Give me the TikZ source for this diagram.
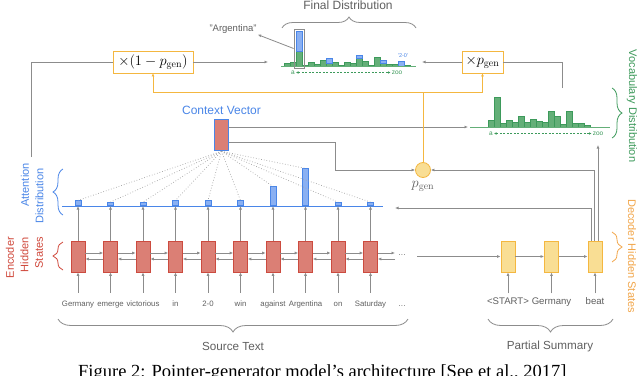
\documentclass[tikz,border=0pt]{standalone}
\usepackage[no-math]{fontspec}
\setmainfont{Liberation Sans}
\newfontfamily\capfont{Liberation Serif}
\usetikzlibrary{arrows.meta,decorations.pathreplacing,calc}
\definecolor{encf}{HTML}{DB7F75}
\definecolor{encd}{HTML}{CC4B3F}
\definecolor{enct}{HTML}{D0483B}
\definecolor{decf}{HTML}{F9DE94}
\definecolor{decd}{HTML}{F4B740}
\definecolor{dect}{HTML}{F2A64A}
\definecolor{bblue}{HTML}{4A86E8}
\definecolor{bfill}{HTML}{8AB0F2}
\definecolor{gfill}{HTML}{64AF78}
\definecolor{gdark}{HTML}{3D9A5B}
\definecolor{lgray}{HTML}{8C8C8C}
\definecolor{tgray}{HTML}{606060}
\tikzset{
  ln/.style={draw=lgray, line width=0.8pt},
  arr/.style={draw=lgray, line width=0.8pt, -{Latex[length=3.5pt,width=3pt]}},
  yline/.style={draw=decd, line width=0.9pt},
  yarr/.style={draw=decd, line width=0.9pt, -{Latex[length=3pt,width=3pt]}},
  dotl/.style={draw=lgray!80, line width=0.7pt, dotted},
  encbox/.style={draw=encd, fill=encf, minimum width=14pt, minimum height=31pt, inner sep=0pt, line width=0.6pt},
  decbox/.style={draw=decd, fill=decf, minimum width=14pt, minimum height=31pt, inner sep=0pt, line width=0.8pt},
  attbar/.style={draw=bblue, fill=bfill, minimum width=6pt, inner sep=0pt, line width=0.6pt},
  gbar/.style={draw=gdark, fill=gfill, line width=0.5pt},
  bbar/.style={draw=bblue, fill=bfill, line width=0.5pt},
  word/.style={text=tgray, font=\fontsize{7.8}{9}\selectfont, text height=6pt, text depth=2pt, inner xsep=1pt, inner ysep=7pt, anchor=base},
  dword/.style={text=tgray, font=\fontsize{9.6}{11}\selectfont, text height=7pt, text depth=2pt, inner xsep=1pt, inner ysep=3.5pt, anchor=base},
  mbox/.style={draw=decd, fill=white, line width=0.9pt, minimum height=22pt, inner sep=1pt, font=\fontsize{14}{16}\selectfont},
  gsmall/.style={text=gdark, font=\fontsize{6.5}{7}\selectfont, inner sep=1pt},
  gdash/.style={draw=gdark, line width=0.6pt, dash pattern=on 2pt off 1.5pt, {Latex[length=2.5pt,width=2.5pt]}-{Latex[length=2.5pt,width=2.5pt]}},
  bigl/.style={font=\fontsize{11.7}{13}\selectfont, text=tgray},
  sidel/.style={font=\fontsize{11}{13}\selectfont, inner sep=0pt},
  brc/.style={decorate, decoration={brace, amplitude=#1}, line width=0.8pt},
}
\begin{document}
\begin{tikzpicture}[x=1pt,y=-1pt]
\useasboundingbox (0,0) rectangle (640,375);
\fill[white] (0,0) rectangle (640,375);

% ---------------- encoder ----------------
\foreach \i/\x in {1/78,2/110.5,3/143,4/175.5,5/208,6/240.5,7/273,8/305.5,9/338,10/370.5}{
  \node[encbox] (e\i) at (\x,256.5) {};
}
\foreach \i/\x/\w in {1/78/Germany,2/110.5/emerge,3/143/victorious,4/175.5/in,5/208/2-0,6/240.5/win,7/273/against,8/305.5/Argentina,9/338/on,10/370.5/Saturday}{
  \node[word] (w\i) at (\x,306) {\w};
  \draw[arr] (w\i.north) -- (e\i.south);
}
\node[word] (w11) at (402,306) {\dots};
\foreach \i/\j in {1/2,2/3,3/4,4/5,5/6,6/7,7/8,8/9,9/10}{
  \draw[arr] ([yshift=3.5pt]e\i.east) -- ([yshift=3.5pt]e\j.west);
  \draw[arr] ([yshift=-2.5pt]e\j.west) -- ([yshift=-2.5pt]e\i.east);
}
\coordinate (dl) at (395,256.5);
\draw[arr] ([yshift=3.5pt]e10.east) -- ([yshift=3.5pt]dl);
\draw[arr] ([yshift=-2.5pt]dl) -- ([yshift=-2.5pt]e10.east);
\node[text=tgray, font=\fontsize{7.8}{9}\selectfont, inner sep=0pt] (edots) at (402,255) {\dots};
\coordinate (dr) at (417,256.5);

% ---------------- decoder ----------------
\foreach \i/\x in {1/508,2/551.5,3/595}{
  \node[decbox] (d\i) at (\x,256.5) {};
}
\foreach \i/\x/\w in {1/508/<START>,2/551.5/Germany,3/595/beat}{
  \node[dword] (dw\i) at (\x,304) {\w};
  \draw[arr] (dw\i.north) -- (d\i.south);
}
\draw[arr] (dr) -- (d1.west);
\draw[arr] (d1) -- (d2);
\draw[arr] (d2) -- (d3);

% ---------------- attention ----------------
\node[draw=bblue, line width=1.6pt, fill=encf, minimum width=14pt, minimum height=31pt, inner sep=0pt] (cv) at (221.5,135) {};
\node[text=bblue, font=\fontsize{12}{14}\selectfont] (cvl) at (221.5,110) {Context Vector};
\foreach \i/\x/\h in {1/78/5,2/110.5/3.3,3/143/3.3,4/175.5/5,5/208/5,6/240.5/5,7/273/19,8/305.5/37,9/338/3.3,10/370.5/3.3}{
  \node[attbar, minimum height=\h pt, anchor=south] (a\i) at (\x,206) {};
}
\foreach \i in {1,...,10}{
  \draw[dotl] (cv.south) -- (a\i.north);
}
\draw[draw=bblue, line width=0.8pt] (62,206) -- (383,206);
\foreach \i in {1,...,10}{
  \draw[arr] (e\i.north) -- (a\i.south);
}

% ---------------- p_gen ----------------
\node[circle, draw=decd, fill=decf, minimum size=15pt, inner sep=0pt, line width=0.8pt] (pg) at (423,170) {};
\node[font=\fontsize{14}{16}\selectfont, text=tgray] (pgl) at (423,186) {$p_{\mathrm{gen}}$};
\coordinate (k1) at (335,142);
\draw[arr] (cv.east |- k1) -- (k1) |- (pg.west);
\coordinate (vin) at (468,127);
\draw[arr] (cv.east |- vin) -- (vin);

\coordinate (att) at (395,208);
\draw[arr] ([xshift=-4pt]d3.north) |- (att);
\draw[arr] ([xshift=-0.5pt]d3.north) |- (pg.east);
\coordinate (vtop) at (598,145);
\draw[arr] ([xshift=3pt]d3.north) -- (vtop);

% ---------------- mixing boxes ----------------
\node[mbox, minimum width=80pt] (m1) at (153,62) {$\times(1-p_{\mathrm{gen}})$};
\node[mbox, minimum width=41pt] (m2) at (482.5,62) {$\times p_{\mathrm{gen}}$};
\coordinate (yj) at (423,92);
\draw[yline] (pg.north) -- (yj);
\draw[yarr] (yj) -| (m1.south);
\draw[yarr] (yj) -| (m2.south);
\coordinate (lb) at (31,157);
\draw[ln] (lb) |- (m1.west);
\coordinate (fdl) at (268,62);
\draw[arr] (m1.east) -- (fdl);
\coordinate (fdr) at (422,62);
\draw[arr] (m2.west) -- (fdr);
\coordinate (vt) at (562,88);
\draw[ln] (vt) |- (m2.east);

% ---------------- vocabulary distribution ----------------
\foreach \i/\h in {0/7,1/30,2/4,3/7,4/5,5/11,6/5,7/8,8/6,9/5,10/16,11/11,12/3,13/16,14/4,15/4,16/2}{
  \filldraw[gbar] (488+6*\i,127) rectangle (494+6*\i,127-\h);
}
\draw[draw=gfill, line width=0.8pt] (470,127) -- (610,127);
\node[gsmall] (va) at (491,133.5) {a};
\node[gsmall] (vz) at (598,133.5) {zoo};
\draw[gdash] (va) -- (vz);

% ---------------- final distribution ----------------
\foreach \i/\h in {0/3,1/4,2/15,3/1,4/4,5/2,6/6,7/3,8/4,9/1,10/4,11/3,12/8,13/5,14/1,15/9,16/3,17/2,18/2,20/1}{
  \filldraw[gbar] (284+6*\i,66) rectangle (290+6*\i,66-\h);
}
\foreach \i/\g/\b in {2/15/20,7/3/5,12/8/3,16/3/3,19/0/5}{
  \filldraw[bbar] (284+6*\i,66-\g) rectangle (290+6*\i,66-\g-\b);
}
\draw[draw=gfill, line width=0.8pt] (281,66) -- (416,66);
\node[draw=lgray, line width=0.8pt, minimum width=10pt, minimum height=39pt, inner sep=0pt] (hb) at (299,48.5) {};
\node[text=tgray, font=\fontsize{9.5}{11}\selectfont, inner sep=1pt] (argl) at (233,29) {"Argentina"};
\draw[arr] (hb.west) -- (argl.south east);
\node[text=bblue, font=\fontsize{5.5}{6}\selectfont, inner sep=0pt] (two) at (403,56) {'2-0'};
\node[gsmall] (fa) at (293,72.5) {a};
\node[gsmall] (fz) at (397,72.5) {zoo};
\draw[gdash] (fa) -- (fz);

% ---------------- braces and labels ----------------
\draw[brc=11pt, draw=lgray] (282,28) -- (416,28);
\node[bigl, font=\fontsize{12}{14}\selectfont] (fdt) at (348,5) {Final Distribution};
\draw[brc=13pt, draw=lgray] (408,319) -- (58,319);
\node[bigl] (srct) at (233,346) {Source Text};
\draw[brc=13pt, draw=lgray] (613,319) -- (488,319);
\node[bigl] (pst) at (550,346) {Partial Summary};

\draw[brc=10pt, draw=gdark] (612,88) -- (612,138);
\node[sidel, rotate=-90, text=gdark] (vdt) at (632,106) {Vocabulary Distribution};
\draw[brc=10pt, draw=dect] (612,232) -- (612,262);
\node[sidel, rotate=-90, text=dect] (ddt) at (632,256) {Decoder Hidden States};

\draw[brc=10pt, draw=enct] (63,270) -- (63,242);
\node[sidel, rotate=90, anchor=east, text=enct] (ht1) at (10,237) {Encoder};
\node[sidel, rotate=90, anchor=east, text=enct] (ht2) at (24.5,237) {Hidden};
\node[sidel, rotate=90, anchor=east, text=enct] (ht3) at (39,237) {States};
\draw[brc=10pt, draw=bblue] (63,215) -- (63,169);
\node[sidel, rotate=90, text=bblue] (at1) at (25,185) {Attention};
\node[sidel, rotate=90, text=bblue] (at2) at (39.5,196) {Distribution};

% ---------------- caption ----------------
\node[anchor=base west, inner sep=0pt, font=\capfont\fontsize{18.5}{20}\selectfont] (cap) at (78,377) {Figure 2: Pointer-generator model’s architecture [See et al., 2017]};
\end{tikzpicture}
\end{document}
